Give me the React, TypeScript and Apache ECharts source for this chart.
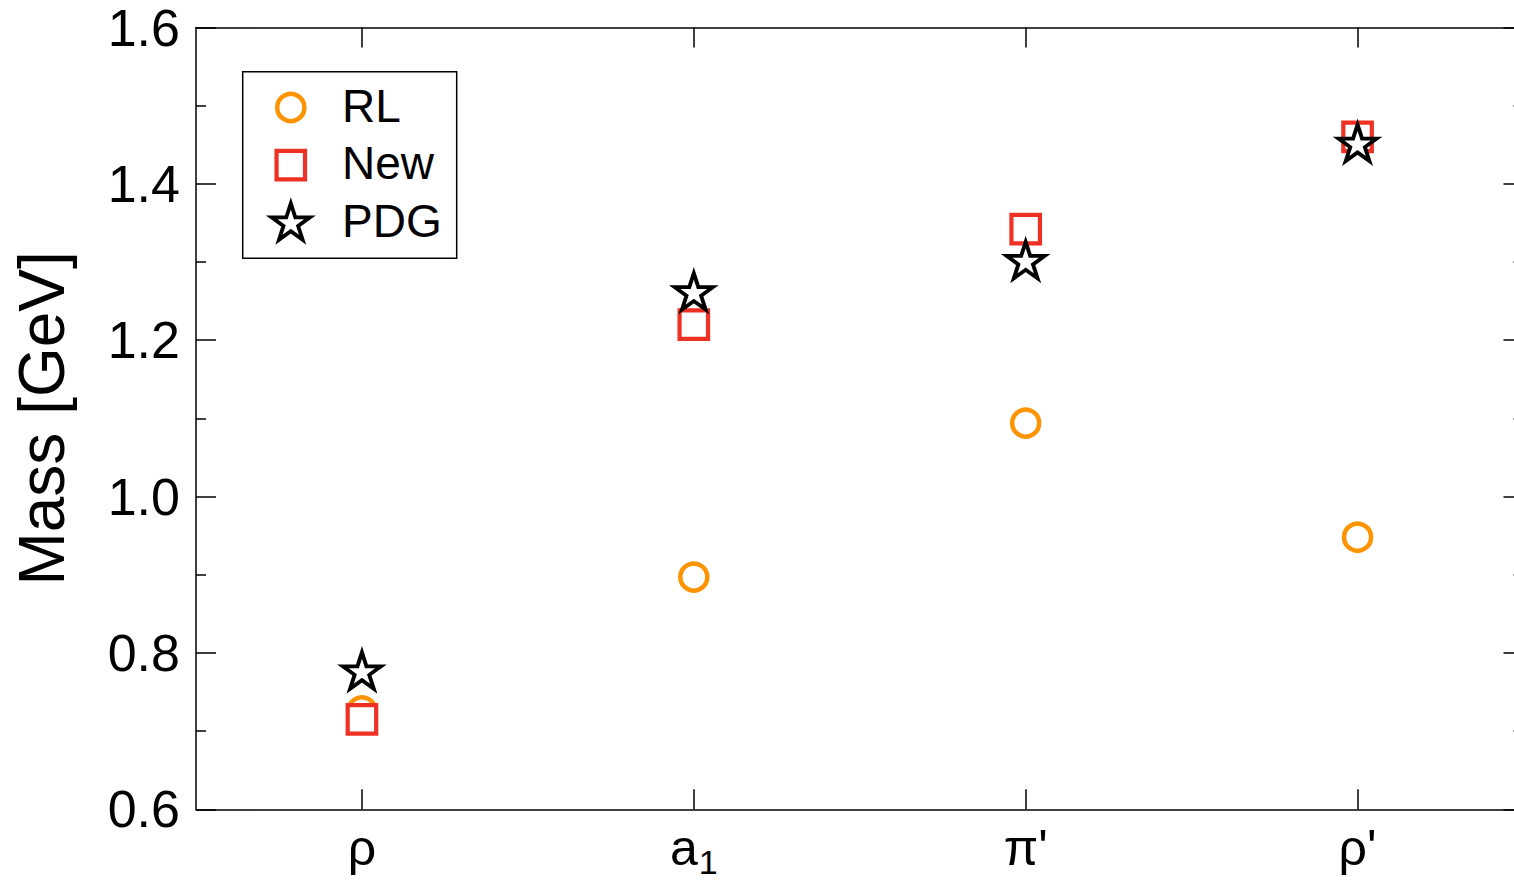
import React, { useEffect, useRef } from "react";
import * as echarts from "echarts";

// Meson states along the x axis ("_" marks a subscript)
const categories = ["ρ", "a_1", "π'", "ρ'"];

// Masses in GeV
const rlMasses = [0.726, 0.897, 1.094, 0.948];
const newMasses = [0.715, 1.22, 1.342, 1.46];
const pdgMasses = [0.775, 1.26, 1.3, 1.45];

const yTicks = { min: 0.6, max: 1.6, step: 0.2 };

const ORANGE = "#FF9300";
const RED = "#EE3124";
const FONT = "'Liberation Sans', Arial, Helvetica, sans-serif";

// Five-pointed star path centred on (0, 0)
function starPath(R: number): string {
  const r = R * 0.382;
  const pts: string[] = [];
  for (let k = 0; k < 10; k++) {
    const a = ((-90 + k * 36) * Math.PI) / 180;
    const rad = k % 2 === 0 ? R : r;
    pts.push(`${(rad * Math.cos(a)).toFixed(3)},${(rad * Math.sin(a)).toFixed(3)}`);
  }
  return "M" + pts.join(" L") + " Z";
}

const STAR_R = 20.1;
echarts.graphic.registerShape("star", echarts.graphic.extendPath(starPath(STAR_R), {}));

export default function App() {
  const ref = useRef<HTMLDivElement>(null);

  useEffect(() => {
    if (!ref.current) return;
    const chart = echarts.init(ref.current, undefined, { renderer: "svg" });

    // star bounding box (outer radius R): width 1.902R, height 1.809R, centre sits 0.0955R below box centre
    const starW = 1.902 * STAR_R;
    const starH = 1.809 * STAR_R;
    const starShift = -(1 - 0.9045) * STAR_R;

    const axisLine = { show: true, onZero: false, lineStyle: { color: "#000", width: 1.5 } };
    const tick = { show: true, inside: true, length: 20, alignWithLabel: true, lineStyle: { color: "#000", width: 1.5 } };

    const labelFormatter = (v: string) => {
      const [base, sub] = v.split("_");
      return sub ? `{m|${base}}{s|${sub}}` : `{m|${base}}`;
    };

    const legendX = 290.8;
    const legendTextX = 342;
    const legendFont = `46px ${FONT}`;

    chart.setOption({
      animation: false,
      backgroundColor: "#fff",
      textStyle: { fontFamily: FONT, color: "#000" },
      grid: { left: 196, top: 27.5, right: 16.5, bottom: 74.7, containLabel: false },
      xAxis: [
        {
          type: "category",
          data: categories,
          position: "bottom",
          boundaryGap: true,
          axisLine,
          axisTick: tick,
          splitLine: { show: false },
          axisLabel: {
            margin: 14,
            color: "#000",
            formatter: labelFormatter,
            rich: {
              m: { fontSize: 50, lineHeight: 50, fontFamily: FONT, color: "#000000", verticalAlign: "top" },
              s: { fontSize: 34, lineHeight: 40, padding: [22, 0, 0, 1], fontFamily: FONT, color: "#000000", verticalAlign: "top" },
            },
          },
        },
        {
          type: "category",
          data: categories,
          position: "top",
          boundaryGap: true,
          axisLine,
          axisTick: tick,
          axisLabel: { show: false },
          splitLine: { show: false },
        },
      ],
      yAxis: [
        {
          type: "value",
          position: "left",
          min: yTicks.min,
          max: yTicks.max,
          interval: yTicks.step,
          axisLine,
          axisTick: tick,
          minorTick: { show: true, splitNumber: 2, length: 10, lineStyle: { color: "#000", width: 1.5 } },
          splitLine: { show: false },
          axisLabel: {
            margin: 16,
            fontSize: 52,
            color: "#000",
            fontFamily: FONT,
            formatter: (v: number) => v.toFixed(1),
          },
          name: "Mass [GeV]",
          nameLocation: "middle",
          nameGap: 122,
          nameRotate: 90,
          nameTextStyle: { fontSize: 64, color: "#000", fontFamily: FONT },
        },
        {
          type: "value",
          position: "right",
          min: yTicks.min,
          max: yTicks.max,
          interval: yTicks.step,
          axisLine,
          axisTick: tick,
          minorTick: { show: true, splitNumber: 2, length: 10, lineStyle: { color: "#000", width: 1.5 } },
          splitLine: { show: false },
          axisLabel: { show: false },
        },
      ],
      series: [
        {
          name: "RL",
          type: "scatter",
          data: rlMasses,
          symbol: "circle",
          symbolSize: 27,
          itemStyle: { color: "#fff", borderColor: ORANGE, borderWidth: 4.5, opacity: 1 },
          emphasis: { disabled: true },
          silent: true,
          z: 2,
        },
        {
          name: "New",
          type: "scatter",
          data: newMasses,
          symbol: "rect",
          symbolSize: 28.5,
          itemStyle: { color: "#fff", borderColor: RED, borderWidth: 4.2, opacity: 1 },
          emphasis: { disabled: true },
          silent: true,
          z: 3,
        },
        {
          name: "PDG",
          type: "scatter",
          data: pdgMasses,
          symbol: "path://" + starPath(100),
          symbolSize: [starW, starH],
          symbolOffset: [0, starShift],
          itemStyle: { color: "#fff", borderColor: "#000", borderWidth: 3.8, opacity: 1 },
          emphasis: { disabled: true },
          silent: true,
          z: 4,
        },
      ],
      graphic: [
        {
          type: "group",
          z: 10,
          children: [
            {
              type: "rect",
              shape: { x: 242.7, y: 71.7, width: 214, height: 186.6 },
              style: { fill: "#fff", stroke: "#000", lineWidth: 1.5 },
            },
            {
              type: "circle",
              shape: { cx: legendX, cy: 107.5, r: 13.6 },
              style: { fill: "#fff", stroke: ORANGE, lineWidth: 4.5 },
            },
            {
              type: "rect",
              shape: { x: legendX - 14.25, y: 165.2 - 14.25, width: 28.5, height: 28.5 },
              style: { fill: "#fff", stroke: RED, lineWidth: 4.2 },
            },
            {
              type: "star",
              x: legendX,
              y: 223.5,
              style: { fill: "#fff", stroke: "#000", lineWidth: 3.8 },
            },
            {
              type: "text",
              x: legendTextX,
              y: 106,
              style: { text: "RL", font: legendFont, fill: "#000", verticalAlign: "middle" },
            },
            {
              type: "text",
              x: legendTextX,
              y: 163,
              style: { text: "New", font: legendFont, fill: "#000", verticalAlign: "middle" },
            },
            {
              type: "text",
              x: legendTextX,
              y: 221,
              style: { text: "PDG", font: legendFont, fill: "#000", verticalAlign: "middle" },
            },
          ],
        },
      ],
    });

    return () => chart.dispose();
  }, []);

  return (
    <div
      style={{
        position: "fixed",
        left: 0,
        top: 0,
        width: 1514,
        height: 884,
        overflow: "hidden",
        background: "#fff",
      }}
    >
      <div ref={ref} style={{ width: 1540, height: 884 }} />
    </div>
  );
}
